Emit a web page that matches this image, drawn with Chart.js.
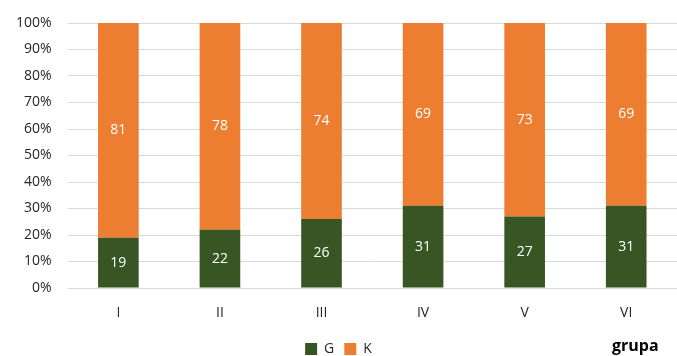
<!DOCTYPE html>
<html>
<head>
<meta charset="utf-8">
<script src="https://cdn.jsdelivr.net/npm/chart.js@4"></script>
<style>
  html, body { margin: 0; padding: 0; background: #fff; }
  #wrap { width: 677px; height: 356px; position: relative; }
</style>
</head>
<body>
<div id="wrap"><canvas id="chart"></canvas></div>
<script>
// data
const groups = ['I', 'II', 'III', 'IV', 'V', 'VI'];
const seriesG = [19, 22, 26, 31, 27, 31];
const seriesK = [81, 78, 74, 69, 73, 69];
const axisTitle = 'grupa';

Chart.defaults.font.family = "'Open Sans', sans-serif";
Chart.defaults.color = '#262626';

// white value labels in the middle of each segment
const segmentLabels = {
    id: 'segmentLabels',
    afterDatasetsDraw(chart) {
        const ctx = chart.ctx;
        ctx.save();
        ctx.fillStyle = '#ffffff';
        ctx.font = "14px 'Open Sans', sans-serif";
        ctx.textAlign = 'center';
        ctx.textBaseline = 'middle';
        chart.data.datasets.forEach((ds, i) => {
            chart.getDatasetMeta(i).data.forEach((bar, j) => {
                const mid = (bar.y + bar.base) / 2;
                ctx.fillText(ds.data[j], bar.x, mid);
            });
        });
        ctx.restore();
    }
};

// "grupa" sits at the legend's row, bottom right
const cornerTitle = {
    id: 'cornerTitle',
    afterDraw(chart) {
        const ctx = chart.ctx;
        ctx.save();
        ctx.fillStyle = '#000000';
        ctx.font = "bold 16px 'Open Sans', sans-serif";
        ctx.textAlign = 'left';
        ctx.textBaseline = 'middle';
        ctx.fillText(axisTitle, 612, 346);
        ctx.restore();
    }
};

new Chart(document.getElementById('chart').getContext('2d'), {
    type: 'bar',
    data: {
        labels: groups,
        datasets: [
            { label: 'G', data: seriesG, backgroundColor: '#375623' },
            { label: 'K', data: seriesK, backgroundColor: '#ED7D31' }
        ]
    },
    options: {
        responsive: true,
        maintainAspectRatio: false,
        animation: false,
        // legend row hangs a little past the bottom edge, like the original
        layout: { padding: { top: 5, right: 0, left: 0, bottom: -10 } },
        datasets: { bar: { barPercentage: 0.4, categoryPercentage: 1 } },
        plugins: {
            legend: {
                position: 'bottom',
                labels: {
                    boxWidth: 12, boxHeight: 12, padding: 10,
                    font: { size: 14, lineHeight: 1 }, color: '#262626'
                }
            },
            tooltip: { enabled: false }
        },
        scales: {
            x: {
                stacked: true,
                grid: { display: false, drawTicks: false },
                border: { display: false },
                ticks: { font: { size: 14 }, padding: 17 },
                afterFit: scale => { scale.height = 44; }
            },
            y: {
                stacked: true,
                min: 0, max: 100,
                grid: { color: '#d9d9d9', drawTicks: false },
                border: { display: false },
                ticks: {
                    stepSize: 10, padding: 16, font: { size: 14, lineHeight: 1 },
                    callback: v => v + '%'
                }
            }
        }
    },
    plugins: [segmentLabels, cornerTitle]
});
</script>
</body>
</html>
